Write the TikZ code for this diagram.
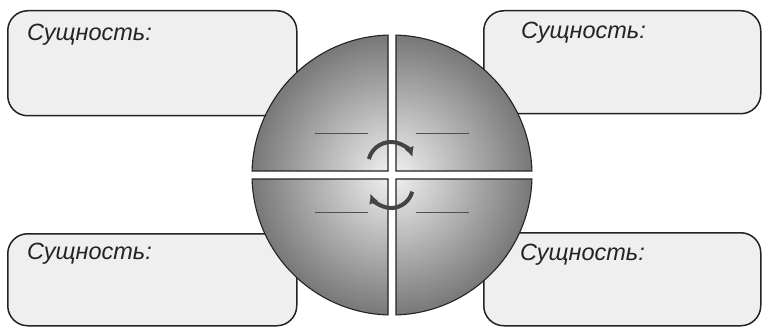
\documentclass[tikz,border=0pt]{standalone}
\usepackage{fontspec}
\setsansfont{Liberation Sans}
\usetikzlibrary{arrows.meta,positioning,calc}
\definecolor{ink}{HTML}{232323}
\definecolor{boxfill}{HTML}{EFEFEF}
\definecolor{rimgray}{HTML}{787878}
\definecolor{coregray}{HTML}{F2F2F2}
\tikzset{
  essencebox/.style={
    rectangle, draw=ink, fill=boxfill, line width=1.5pt,
    rounded corners=20pt, anchor=north west, inner sep=0pt
  },
  essencelabel/.style={
    font=\sffamily\itshape\fontsize{23.5}{26}\selectfont, text=ink,
    anchor=base west, inner sep=0pt
  },
  quarter/.style={draw=ink, line width=1.1pt},
  blankline/.style={draw=ink!80, line width=0.9pt},
  turnarrow/.style={
    -{Latex[length=10pt,width=10pt]}, line width=4pt, draw=ink!85
  },
}

\begin{document}
\begin{tikzpicture}[x=1pt,y=1pt]
  \useasboundingbox (0,0) rectangle (763,335);
  % four boxes
  \node[essencebox, minimum width=289pt, minimum height=105pt] (boxTL) at (7,325) {};
  \node[essencebox, minimum width=277pt, minimum height=103pt] (boxTR) at (483,325) {};
  \node[essencebox, minimum width=289pt, minimum height=92pt] (boxBL) at (7,102) {};
  \node[essencebox, minimum width=277pt, minimum height=93pt] (boxBR) at (483,103) {};
  \node[essencelabel] at ([xshift=20pt, yshift=-31pt]boxTL.north west) (textTL) {Сущность:};
  \node[essencelabel] at ([xshift=38pt, yshift=-29pt]boxTR.north west) (textTR) {Сущность:};
  \node[essencelabel] at ([xshift=20pt, yshift=-26pt]boxBL.north west) (textBL) {Сущность:};
  \node[essencelabel] at ([xshift=37pt, yshift=-28pt]boxBR.north west) (textBR) {Сущность:};
  % circle of four quarters
  \coordinate (hub) at (392,160);
  \begin{scope}
    \clip (388,164) -- ($(hub)+(91.64:140pt)$) arc[start angle=91.64, end angle=178.36, radius=140pt] -- cycle
          (396,164) -- ($(hub)+(1.64:140pt)$) arc[start angle=1.64, end angle=88.36, radius=140pt] -- cycle
          (388,156) -- ($(hub)+(181.64:140pt)$) arc[start angle=181.64, end angle=268.36, radius=140pt] -- cycle
          (396,156) -- ($(hub)+(271.64:140pt)$) arc[start angle=271.64, end angle=358.36, radius=140pt] -- cycle;
    \shade[inner color=coregray, outer color=rimgray] (hub) circle[radius=140pt];
  \end{scope}
  \draw[quarter] (388,164) -- ($(hub)+(91.64:140pt)$) arc[start angle=91.64, end angle=178.36, radius=140pt] -- cycle;
  \draw[quarter] (396,164) -- ($(hub)+(1.64:140pt)$) arc[start angle=1.64, end angle=88.36, radius=140pt] -- cycle;
  \draw[quarter] (388,156) -- ($(hub)+(181.64:140pt)$) arc[start angle=181.64, end angle=268.36, radius=140pt] -- cycle;
  \draw[quarter] (396,156) -- ($(hub)+(271.64:140pt)$) arc[start angle=271.64, end angle=358.36, radius=140pt] -- cycle;
  % blanks
  \draw[blankline] (315,202) -- (368,202);
  \draw[blankline] (416,202) -- (469,202);
  \draw[blankline] (315,123) -- (368,123);
  \draw[blankline] (416,123) -- (469,123);
  % rotation arrows
  \coordinate (upturn) at (391,170);
  \coordinate (downturn) at (391,149);
  \draw[turnarrow] ($(upturn)+(165:23pt)$) arc[start angle=165, end angle=20, radius=23pt];
  \draw[turnarrow] ($(downturn)+(-15:22pt)$) arc[start angle=-15, end angle=-160, radius=22pt];
\end{tikzpicture}
\end{document}
